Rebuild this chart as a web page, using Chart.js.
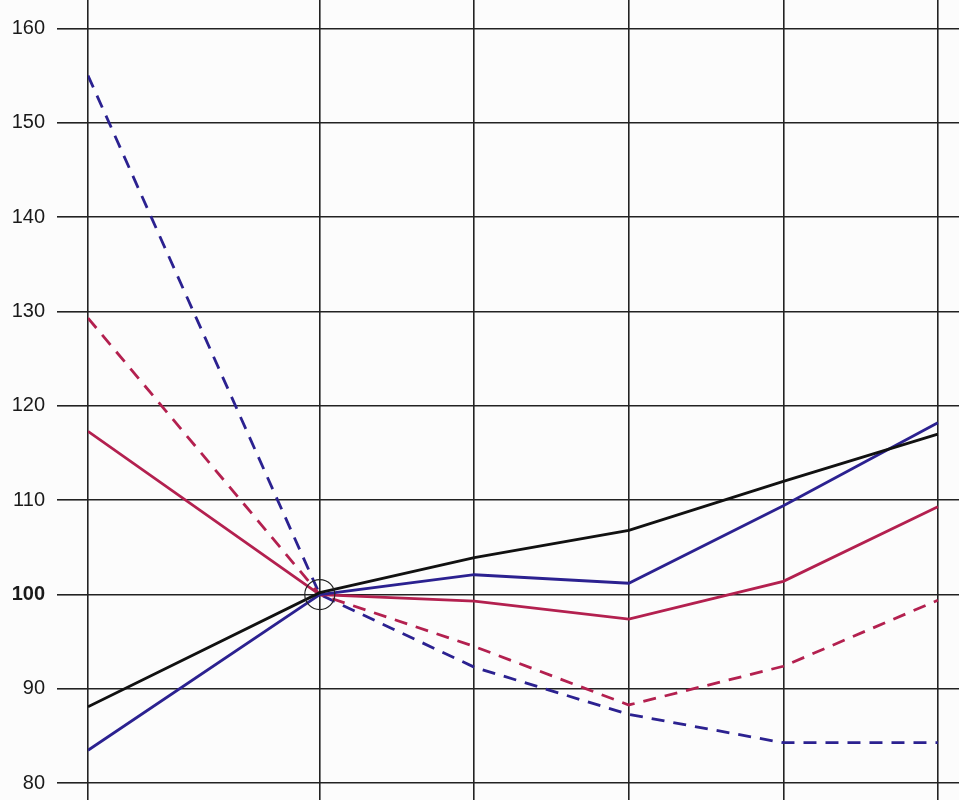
<!DOCTYPE html>
<html>
<head>
<meta charset="utf-8">
<script src="https://cdn.jsdelivr.net/npm/chart.js@4"></script>
<style>
  html, body { margin: 0; padding: 0; background: #fcfcfc; }
  canvas { display: block; }
</style>
</head>
<body>
<canvas id="chart" width="959" height="800"></canvas>
<script>
// posiciones de las columnas (la primera esta mas separada)
const xPos = [0, 1.5, 2.5, 3.5, 4.5, 5.5];
const yTicks = [80, 90, 100, 110, 120, 130, 140, 150, 160];

const blackSolid = [88.1, 100.2, 103.9, 106.8, 112.0, 117.0];
const blueSolid = [83.5, 100, 102.1, 101.2, 109.4, 118.2];
const redSolid = [117.3, 100, 99.3, 97.4, 101.4, 109.3];
const redDashed = [129.3, 100, 94.5, 88.3, 92.4, 99.4];
const blueDashed = [155, 100, 92.3, 87.3, 84.3, 84.3];
const basePoint = [{ x: 1.5, y: 100 }];

const toPoints = arr => arr.map((v, i) => ({ x: xPos[i], y: v }));

const blue = '#2b2190';
const red = '#b3204f';

const serie = (data, color, dashed) => ({
  data: toPoints(data),
  borderColor: color,
  borderWidth: 2.8,
  borderDash: dashed ? [13, 9] : [],
  pointRadius: 0,
  fill: false,
  tension: 0
});

new Chart(document.getElementById('chart').getContext('2d'), {
  type: 'line',
  data: {
    datasets: [
      {
        data: basePoint,
        showLine: false,
        pointRadius: 15,
        pointHoverRadius: 15,
        pointBorderColor: '#222',
        pointBorderWidth: 1.2,
        pointBackgroundColor: 'rgba(0,0,0,0)'
      },
      serie(blackSolid, '#111', false),
      serie(blueSolid, blue, false),
      serie(redSolid, red, false),
      serie(redDashed, red, true),
      serie(blueDashed, blue, true)
    ]
  },
  options: {
    responsive: false,
    animation: false,
    layout: { padding: 0, autoPadding: false },
    plugins: {
      legend: { display: false },
      tooltip: { enabled: false }
    },
    scales: {
      x: {
        type: 'linear',
        min: 0,
        max: 5.637,
        afterBuildTicks: scale => { scale.ticks = xPos.map(v => ({ value: v })); },
        afterFit: scale => {
          scale.height = 0;
          scale.paddingLeft = scale.paddingRight = 0;
        },
        ticks: { display: false },
        border: { display: false },
        grid: { color: '#222', lineWidth: 1.6, drawTicks: false }
      },
      y: {
        min: 78.23,
        max: 163.0,
        afterBuildTicks: scale => { scale.ticks = yTicks.map(v => ({ value: v })); },
        afterFit: scale => {
          scale.width = 88;
          scale.paddingTop = scale.paddingBottom = 0;
        },
        border: { display: false },
        grid: { color: '#222', lineWidth: 1.6, tickLength: 31 },
        ticks: {
          padding: 12,
          color: '#1a1a1a',
          font: ctx => ({
            family: 'Liberation Sans, Arial, sans-serif',
            size: 20,
            weight: ctx.tick && ctx.tick.value === 100 ? 'bold' : 'normal'
          })
        }
      }
    }
  }
});
</script>
</body>
</html>
